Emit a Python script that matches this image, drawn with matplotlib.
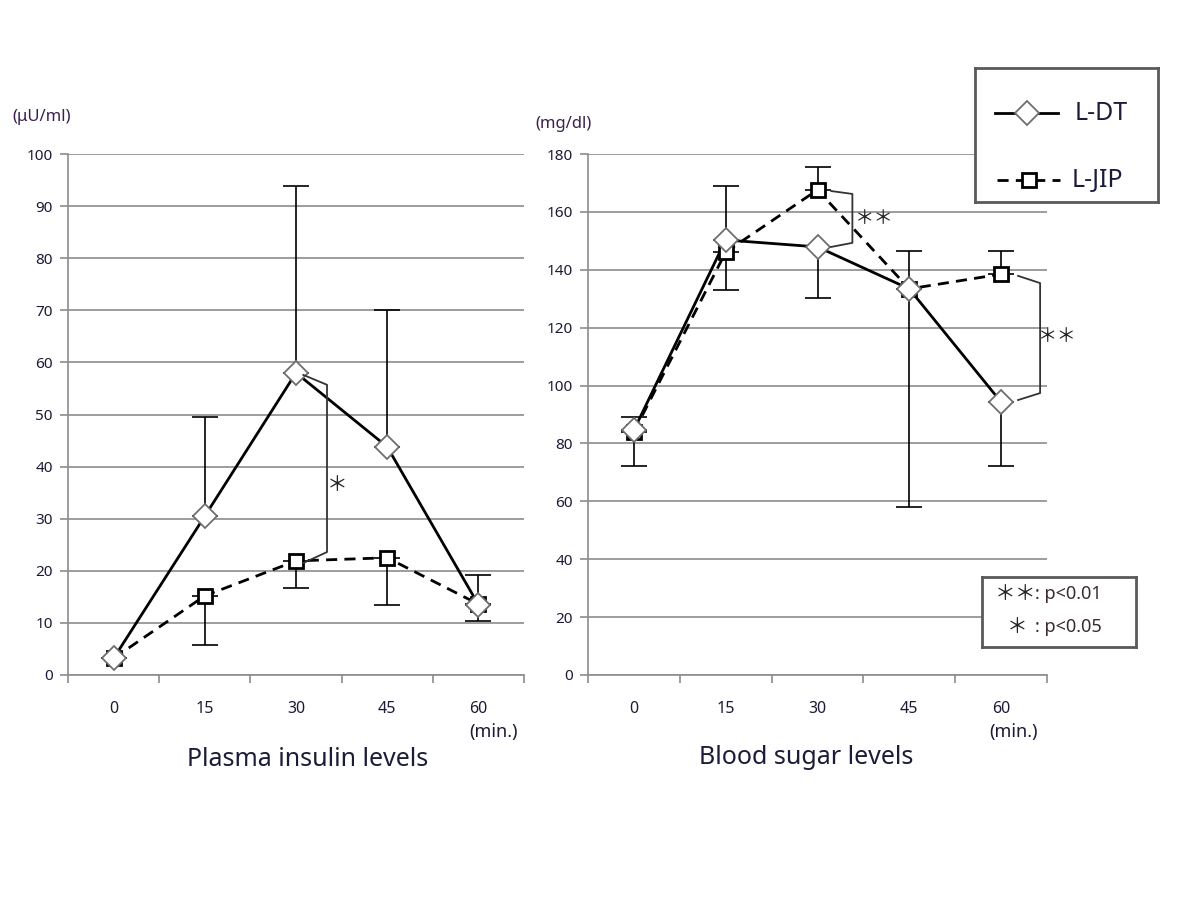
import matplotlib
matplotlib.use("Agg")
import matplotlib.pyplot as plt

# ---------------- data ----------------
times = ["0", "15", "30", "45", "60"]

insulin_dt = [3.2, 30.5, 58.0, 43.8, 13.5]
insulin_jip = [3.2, 15.2, 21.9, 22.5, 13.6]
insulin_dt_err_up = [0.0, 19.0, 35.9, 26.2, 5.7]
insulin_jip_err_low = [0.0, 9.4, 5.2, 9.1, 3.3]

sugar_dt = [84.6, 150.3, 147.9, 133.4, 94.3]
sugar_jip = [84.0, 146.1, 167.6, 133.4, 138.5]
sugar_dt_err_low = [12.4, 17.3, 17.6, 75.4, 22.1]
sugar_jip_err_up = [5.1, 22.9, 7.9, 13.1, 8.0]

series_labels = ["L-DT", "L-JIP"]
titles = ["Plasma insulin levels", "Blood sugar levels"]
units = ["(\u03bcU/ml)", "(mg/dl)"]

FONT = ["Noto Sans", "DejaVu Sans"]
CJK = ["Noto Sans CJK JP", "DejaVu Sans"]
plt.rcParams["font.family"] = FONT

W, H = 1200, 898
fig = plt.figure(figsize=(W / 100, H / 100), dpi=100)
fig.patch.set_facecolor("white")

def fx(px):
    return px / W

def fy(py):
    return 1 - py / H

GRID = "#8c8c8c"
TXT = "#1e1a36"

ax1 = fig.add_axes([fx(68), fy(675), (524 - 68) / W, (675 - 154) / H])
ax2 = fig.add_axes([fx(588), fy(675), (1047 - 588) / W, (675 - 154) / H])

def style_axis(ax, ymax, ystep):
    ax.set_xlim(-0.5, 4.5)
    ax.set_ylim(0, ymax)
    ax.set_yticks(range(0, ymax + 1, ystep))
    ax.yaxis.grid(True, color=GRID, lw=1.2)
    ax.set_axisbelow(True)
    for s in ["top", "right"]:
        ax.spines[s].set_visible(False)
    for s in ["left", "bottom"]:
        ax.spines[s].set_color(GRID)
        ax.spines[s].set_linewidth(1.2)
    ax.set_xticks(range(5))
    ax.set_xticklabels(times)
    ax.set_xticks([-0.5, 0.5, 1.5, 2.5, 3.5, 4.5], minor=True)
    ax.tick_params(axis="x", which="major", length=0, pad=19, labelsize=11.5, labelcolor=TXT)
    ax.tick_params(axis="x", which="minor", length=6, width=1.2, color=GRID, direction="out")
    ax.tick_params(axis="y", length=6, width=1.2, color=GRID, pad=5, labelsize=11, labelcolor=TXT)

style_axis(ax1, 100, 10)
style_axis(ax2, 180, 20)

x = list(range(5))

def plot_series(ax, ydt, yjip, dt_err, jip_err, dt_upper):
    zeros = [0] * 5
    if dt_upper:
        dt_yerr = [zeros, dt_err]
        jip_yerr = [jip_err, zeros]
    else:
        dt_yerr = [dt_err, zeros]
        jip_yerr = [zeros, jip_err]
    ax.errorbar(x, ydt, yerr=dt_yerr, fmt="none", ecolor="black", elinewidth=1.2,
                capsize=9.4, capthick=1.2, zorder=2)
    ax.errorbar(x, yjip, yerr=jip_yerr, fmt="none", ecolor="black", elinewidth=1.2,
                capsize=9.4, capthick=1.2, zorder=2)
    ax.plot(x, yjip, color="black", lw=2.0, ls=(0, (4, 2.6)), zorder=3)
    ax.plot(x, ydt, color="black", lw=2.0, zorder=3)
    ax.plot(x, yjip, ls="none", marker="s", ms=10.5, mfc="white", mec="black", mew=2.0, zorder=4)
    ax.plot(x, ydt, ls="none", marker="D", ms=12.5, mfc="white", mec="#6e6e6e", mew=1.3, zorder=5)

plot_series(ax1, insulin_dt, insulin_jip, insulin_dt_err_up, insulin_jip_err_low, True)
plot_series(ax2, sugar_dt, sugar_jip, sugar_dt_err_low, sugar_jip_err_up, False)

BR = "#333333"
def bracket(ax, xi, x0, x1, ytop0, ytop1, ybot1, ybot0):
    ax.plot([xi + x0, xi + x1, xi + x1, xi + x0], [ytop0, ytop1, ybot1, ybot0],
            color=BR, lw=1.3, zorder=6, clip_on=False)

bracket(ax1, 2, 0.08, 0.34, 57.6, 55.7, 23.6, 21.5)
ax1.text(2.45, 36.5, "\uff0a", family=CJK, fontsize=15, ha="center", va="center", color="#222222")

bracket(ax2, 2, 0.15, 0.38, 167.2, 166.2, 149.3, 147.9)
ax2.text(2.62, 157.6, "\uff0a\uff0a", family=CJK, fontsize=14, ha="center", va="center", color="#222222")

bracket(ax2, 4, 0.185, 0.425, 137.9, 135.4, 97.4, 95.0)
ax2.text(4.61, 116.8, "\uff0a\uff0a", family=CJK, fontsize=14, ha="center", va="center", color="#222222")

# units
fig.text(fx(42), fy(117), units[0], ha="center", va="center", fontsize=12, color="#3c2050")
fig.text(fx(563), fy(124), units[1], ha="center", va="center", fontsize=12, color="#3c2050")

# (min.)
fig.text(fx(493), fy(732), "(min.)", ha="center", va="center", fontsize=13, color=TXT)
fig.text(fx(1013), fy(732), "(min.)", ha="center", va="center", fontsize=13, color=TXT)

# titles
fig.text(fx(308), fy(760), titles[0], ha="center", va="center", fontsize=18, color="#1c1c38")
fig.text(fx(806), fy(757), titles[1], ha="center", va="center", fontsize=18, color="#1c1c38")

# legend box
lax = fig.add_axes([fx(975), fy(202), (1158 - 975) / W, (202 - 68) / H])
lax.set_xlim(975, 1158)
lax.set_ylim(202, 68)
lax.set_facecolor("white")
for s in lax.spines.values():
    s.set_color("#5a5a5a")
    s.set_linewidth(2)
lax.set_xticks([])
lax.set_yticks([])
lax.plot([995, 1058], [113, 113], color="black", lw=2.0)
lax.plot([1027], [113], marker="D", ms=12.5, mfc="white", mec="#6e6e6e", mew=1.3)
lax.plot([997, 1060], [180, 180], color="black", lw=2.0, ls=(0, (4, 2.6)))
lax.plot([1029], [180], marker="s", ms=10.5, mfc="white", mec="black", mew=2.0)
lax.text(1075, 113, series_labels[0], fontsize=18, va="center", ha="left", color="#1c1c38")
lax.text(1072, 180, series_labels[1], fontsize=18, va="center", ha="left", color="#1c1c38")

# p-value box
pax = fig.add_axes([fx(982), fy(647), (1136 - 982) / W, (647 - 577) / H])
pax.set_xlim(982, 1136)
pax.set_ylim(647, 577)
pax.set_facecolor("white")
for s in pax.spines.values():
    s.set_color("#5a5a5a")
    s.set_linewidth(2)
pax.set_xticks([])
pax.set_yticks([])
pax.text(995, 594, "\uff0a\uff0a", family=CJK, fontsize=15, va="center", ha="left", color="#222222")
pax.text(1035, 594, ": p<0.01", fontsize=13, va="center", ha="left", color="#3c2a30")
pax.text(1007, 627, "\uff0a", family=CJK, fontsize=15, va="center", ha="left", color="#222222")
pax.text(1035, 627, ": p<0.05", fontsize=13, va="center", ha="left", color="#3c2a30")

fig.savefig("out.png", dpi=100, facecolor="white")
